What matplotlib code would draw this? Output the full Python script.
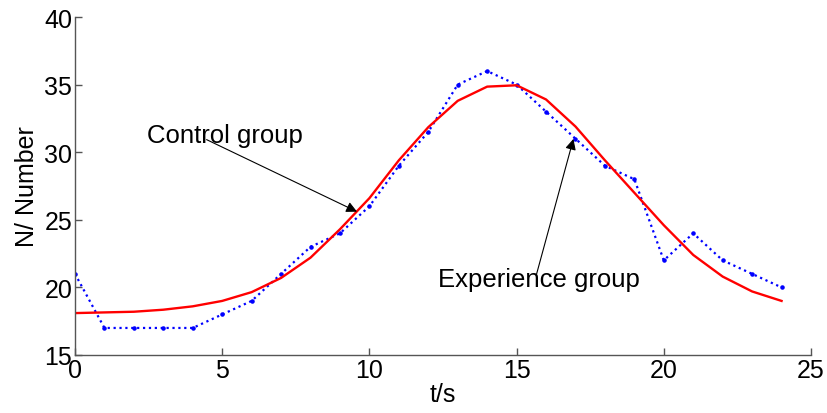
import matplotlib
matplotlib.use("Agg")
import matplotlib.pyplot as plt

plt.rcParams['font.family'] = ['Liberation Sans', 'DejaVu Sans']

t = list(range(25))
experience = [21, 17, 17, 17, 17, 18, 19, 21, 23, 24, 26, 29, 31.5, 35, 36,
              35, 33, 31, 29, 28, 22, 24, 22, 21, 20]
control = [18.1, 18.15, 18.2, 18.35, 18.6, 19.0, 19.65, 20.7, 22.2, 24.3, 26.6,
           29.4, 31.85, 33.8, 34.85, 34.95, 33.9, 31.9, 29.4, 27.0, 24.6,
           22.4, 20.8, 19.7, 19.0]
xticks = [0, 5, 10, 15, 20, 25]
yticks = [15, 20, 25, 30, 35, 40]

fig = plt.figure(figsize=(8.27, 4.14), dpi=100)
ax = fig.add_axes([75/827, 1-356/414, (811-75)/827, (356-18)/414])

ax.plot(t, experience, color='blue', linestyle=':', linewidth=1.6,
        marker='.', markersize=4.5)
ax.plot(t, control, color='red', linestyle='-', linewidth=1.7)

ax.set_xlim(0, 25)
ax.set_ylim(15, 40)
ax.set_xticks(xticks)
ax.set_yticks(yticks)
ax.tick_params(direction='in', length=5, width=1, color='#555555',
               labelsize=18, pad=2)
for s in ['top', 'right']:
    ax.spines[s].set_visible(False)
for s in ['left', 'bottom']:
    ax.spines[s].set_color('#555555')
    ax.spines[s].set_linewidth(1.0)

ax.set_xlabel('t/s', fontsize=18, labelpad=0)
ax.set_ylabel('N/ Number', fontsize=18, labelpad=4)

ax.text(2.45, 30.78, 'Control group', fontsize=18.5, ha='left', va='baseline')
ax.annotate('', xy=(9.58, 25.6), xytext=(4.47, 30.93),
            arrowprops=dict(arrowstyle='-|>', color='black', lw=0.8,
                            mutation_scale=16, shrinkA=0, shrinkB=0))
ax.text(12.34, 20.14, 'Experience group', fontsize=18.5, ha='left', va='baseline')
ax.annotate('', xy=(16.93, 30.98), xytext=(15.68, 21.0),
            arrowprops=dict(arrowstyle='-|>', color='black', lw=0.8,
                            mutation_scale=16, shrinkA=0, shrinkB=0))

fig.savefig('out.png', dpi=100)
